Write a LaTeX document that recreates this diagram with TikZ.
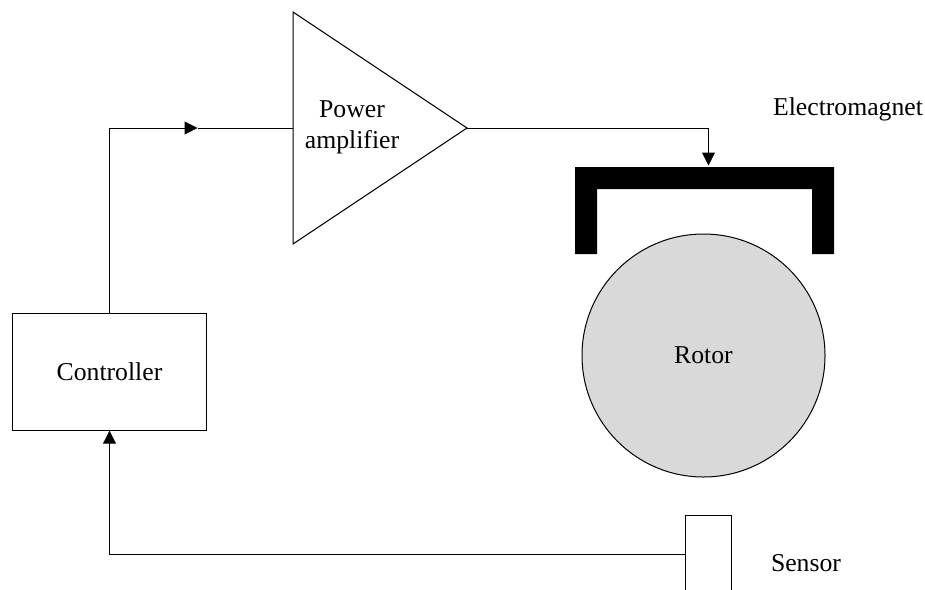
\documentclass[tikz,border=0pt]{standalone}
\usepackage{fontspec}
\setmainfont{Liberation Serif}
\usepackage{tikz}
\usetikzlibrary{calc,positioning,arrows.meta,shapes.geometric}
\definecolor{rotorgray}{RGB}{217,217,217}
\tikzset{
  blockbox/.style={draw,line width=1pt,outer sep=0pt,inner sep=0pt,align=center},
  caption/.style={inner sep=0pt,align=center},
  sig/.style={line width=1pt},
  sigtip/.style={sig,-{Triangle[length=13pt,width=13pt]}}
}
\begin{document}
\begin{tikzpicture}[x=1pt,y=-1pt,font=\fontsize{25.7}{31}\selectfont]
    \useasboundingbox (0,0) rectangle (925,589);
    \node[blockbox,minimum width=194.4pt,minimum height=117.4pt] (ctrl) at (109.5,372)
      {Controller};
    \node[blockbox,isosceles triangle,isosceles triangle stretches,anchor=lower side,
          shape border rotate=0,minimum width=232pt,minimum height=174pt] (amp) at (293,128) {};
    \node[caption] (amptext) at (352,127.5) {Power\\amplifier};
    \node[draw,line width=1pt,circle,fill=rotorgray,minimum size=243pt,inner sep=0pt,outer sep=0pt] (rotor)
      at (703.5,355.5) {Rotor};
    \fill (575,254) -- (575,167) -- (834,167) -- (834,254) -- (812,254) -- (812,189)
      -- (597,189) -- (597,254) -- cycle;
    \coordinate (magnet) at (708.5,165.5);
    \node[blockbox,minimum width=46pt,minimum height=78pt] (sensor) at (708,554) {};
    \node[caption] (magtext) at (848,109.5) {Electromagnet};
    \node[caption] (sentext) at (806,563) {Sensor};
    \coordinate (midtip) at (197.5,128);
    \draw[sigtip] (ctrl.north) |- (midtip);
    \draw[sig] (midtip) -- (amp.lower side);
    \draw[sigtip] (amp.apex) -| (magnet);
    \draw[sigtip] (sensor.west) -| (ctrl.south);
\end{tikzpicture}
\end{document}
